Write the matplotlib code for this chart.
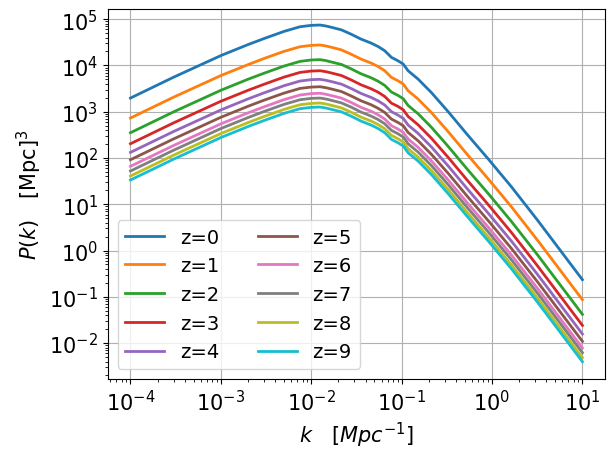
import numpy as np
import matplotlib
matplotlib.use("Agg")
import matplotlib.pyplot as plt

# wavenumbers [1/Mpc]
k = [1e-4, 3e-4, 1e-3, 2e-3, 3e-3, 5e-3, 7.5e-3, 1e-2, 1.25e-2, 1.45e-2, 1.65e-2,
     2.15e-2, 2.75e-2, 3.55e-2, 4.6e-2, 5.5e-2, 6.5e-2, 7.7e-2, 9.1e-2,
     0.104, 0.118, 0.152, 0.214, 0.327, 0.546, 0.91, 1.65, 3.2, 10]

# P(k) [Mpc^3] for each redshift
pk_z0 = [1970, 5560, 16300, 28200, 38000, 54300, 68400, 73300, 74500, 71100, 67000,
         58700, 47400, 37000, 30300, 25500, 20700, 14900, 12600, 10700, 7640,
         5060, 2570, 1000, 302, 94.6, 23.4, 4.47, 0.234]
pk_z1 = [729, 2060, 6030, 10400, 14100, 20100, 25300, 27100, 27600, 26300, 24800,
         21700, 17500, 13700, 11200, 9440, 7660, 5510, 4660, 3960, 2830,
         1870, 951, 370, 112, 35.0, 8.66, 1.65, 0.0866]
pk_z2 = [351, 991, 2900, 5030, 6770, 9680, 12200, 13100, 13300, 12700, 11900,
         10500, 8450, 6590, 5400, 4540, 3690, 2660, 2250, 1910, 1360,
         902, 458, 178, 53.8, 16.9, 4.17, 0.797, 0.0417]
pk_z3 = [203, 573, 1680, 2900, 3910, 5590, 7050, 7550, 7670, 7320, 6900,
         6050, 4880, 3810, 3120, 2630, 2130, 1530, 1300, 1100, 787,
         521, 265, 103, 31.1, 9.74, 2.41, 0.460, 0.0241]
pk_z4 = [132, 373, 1090, 1890, 2550, 3640, 4590, 4920, 5000, 4770, 4500,
         3940, 3180, 2480, 2030, 1710, 1390, 1000, 845, 718, 513,
         340, 172, 67.1, 20.3, 6.35, 1.57, 0.300, 0.0157]
pk_z5 = [91.5, 258, 757, 1310, 1770, 2520, 3180, 3400, 3460, 3300, 3110,
         2730, 2200, 1720, 1410, 1180, 962, 692, 585, 497, 355,
         235, 119, 46.5, 14.0, 4.39, 1.09, 0.208, 0.0109]
pk_z6 = [66.0, 186, 546, 945, 1270, 1820, 2290, 2460, 2500, 2380, 2240,
         1970, 1590, 1240, 1020, 854, 693, 499, 422, 358, 256,
         170, 86.1, 33.5, 10.1, 3.17, 0.784, 0.150, 0.00784]
pk_z7 = [52.2, 147, 432, 747, 1010, 1440, 1810, 1940, 1970, 1880, 1770,
         1550, 1260, 980, 803, 675, 548, 395, 334, 283, 202,
         134, 68.1, 26.5, 8.00, 2.51, 0.620, 0.118, 0.0062]
pk_z8 = [40.7, 115, 337, 582, 785, 1120, 1410, 1510, 1540, 1470, 1380,
         1210, 979, 764, 626, 527, 427, 308, 260, 221, 158,
         104, 53.1, 20.7, 6.24, 1.95, 0.483, 0.0923, 0.00483]
pk_z9 = [33.4, 94.2, 276, 478, 644, 920, 1160, 1240, 1260, 1200, 1130,
         994, 803, 627, 513, 432, 351, 252, 213, 181, 129,
         85.7, 43.5, 16.9, 5.12, 1.60, 0.396, 0.0757, 0.00396]

spectra = [pk_z0, pk_z1, pk_z2, pk_z3, pk_z4, pk_z5, pk_z6, pk_z7, pk_z8, pk_z9]
redshifts = [0, 1, 2, 3, 4, 5, 6, 7, 8, 9]

fig = plt.figure(figsize=(6.13, 4.6), dpi=100)
ax = fig.add_axes([0.176, 0.174, 0.811, 0.804])

for z, pk in zip(redshifts, spectra):
    ax.plot(k, pk, lw=2, label='z=' + str(z))

ax.set_xscale('log')
ax.set_yscale('log')
ax.set_xlim(10**-4.25, 10**1.25)
ax.set_ylim(10**-2.775, 10**5.216)
ax.grid(True)
ax.tick_params(labelsize=15)
ax.set_xlabel(r'$k \quad [Mpc^{-1}]$', fontsize=15)
ax.set_ylabel(r'$P(k) \quad [\mathrm{Mpc}]^3$', fontsize=15)
ax.legend(loc='lower left', ncol=2, fontsize=14)

fig.savefig('out.png', dpi=100)
